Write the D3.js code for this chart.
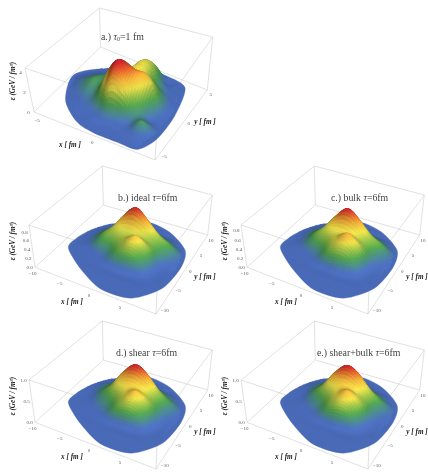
<!DOCTYPE html>
<html><head><meta charset="utf-8">
<script src="https://cdn.jsdelivr.net/npm/d3@7"></script>
<style>html,body{margin:0;padding:0;background:#fff}svg{display:block}</style>
</head><body><svg id="c" width="428" height="472"></svg>
<script>
// ---------- data ----------
const titleA="a.) ", titleB="b.) ideal ", titleC="c.) bulk ", titleD="d.) shear ", titleE="e.) shear+bulk ";
const ticksEarlyX=[-5,0], ticksEarlyY=[-5,0,5], ticksEarlyZ=[0,2,4];
const ticksLateX=[-10,-5,0,5], ticksLateY=[-10,-5,0,5,10];
const ticksZ8=[0,0.2,0.4,0.6,0.8], ticksZ1=[0,0.5,1];
const nodesEarly=[-5,-4,-3,-2,-1,0,1,2,3,4,5];
const nodesLate=[-9.5,-7.5,-5.5,-3.5,-1.5,.5,2.5,4.5,6.5,8.5,10.5];
// rows run from y high (back) to y low (front); columns from x low to x high
const epsA=[
[0,.05,.05,.05,.05,.1,.1,.05,.05,0,0],
[0,.05,.1,.1,.3,1.6,1.4,.2,.1,.05,0],
[.05,.1,.2,.3,.8,2.1,1.9,.7,.2,.1,.05],
[.05,.1,.3,.6,1.2,2.2,2.1,1.0,.4,.1,.05],
[.05,.3,.7,.9,2.0,2.4,2.2,2.0,.8,.2,.05],
[.1,.5,1.0,1.1,2.8,3.6,3.2,3.0,1.1,.2,.05],
[.1,.4,.8,1.0,3.0,4.3,3.6,2.3,.7,.2,.05],
[.05,.2,.4,.6,1.7,3.5,2.9,1.2,.4,.2,.05],
[.05,.1,.2,.3,.5,.9,.7,.4,.9,.4,.05],
[0,.05,.1,.1,.2,.2,.2,.2,.3,.2,0],
[0,0,.05,.05,.05,.05,.05,.05,.05,0,0]];
const epsB=[
[0,0,0,0,0,0,0,0,0,0,0],
[0,0,0,.01,.01,.01,.01,.01,0,0,0],
[0,.01,.01,.02,.06,.10,.07,.03,.02,.01,0],
[.01,.01,.03,.08,.25,.50,.33,.20,.10,.02,.01],
[.01,.02,.08,.24,.60,.87,.68,.40,.25,.08,.01],
[.01,.02,.10,.30,.42,.43,.40,.30,.16,.06,.01],
[.01,.01,.07,.20,.26,.38,.56,.34,.07,.02,.01],
[.01,.01,.02,.05,.10,.24,.30,.18,.03,.01,.01],
[0,.01,.01,.01,.02,.03,.03,.02,.01,.01,0],
[0,0,.01,.01,.01,.01,.01,.01,.01,0,0],
[0,0,0,0,0,0,0,0,0,0,0]];
const epsC=[
[0,0,0,0,0,0,0,0,0,0,0],
[0,0,0,.01,.01,.01,.01,.01,0,0,0],
[0,.01,.01,.03,.07,.10,.07,.03,.02,.01,0],
[.01,.01,.04,.10,.27,.49,.33,.20,.10,.02,.01],
[.01,.02,.09,.24,.57,.82,.66,.38,.24,.07,.01],
[.01,.02,.10,.29,.42,.45,.42,.31,.15,.06,.01],
[.01,.01,.07,.19,.27,.42,.60,.36,.08,.02,.01],
[.01,.01,.02,.05,.11,.26,.32,.20,.03,.01,.01],
[0,.01,.01,.01,.02,.03,.04,.02,.01,.01,0],
[0,0,.01,.01,.01,.01,.01,.01,.01,0,0],
[0,0,0,0,0,0,0,0,0,0,0]];
const epsD=[
[0,0,0,0,0,0,0,0,0,0,0],
[0,0,0,.01,.01,.02,.01,.01,0,0,0],
[0,.01,.01,.03,.08,.12,.09,.04,.02,.01,0],
[.01,.01,.04,.11,.28,.50,.35,.20,.09,.02,.01],
[.01,.02,.08,.22,.60,.86,.72,.40,.20,.06,.01],
[.01,.02,.07,.24,.44,.52,.47,.33,.14,.05,.01],
[.01,.01,.04,.13,.24,.40,.57,.36,.09,.03,.01],
[.01,.01,.02,.05,.11,.26,.33,.20,.03,.01,.01],
[0,.01,.01,.01,.02,.03,.04,.02,.01,.01,0],
[0,0,.01,.01,.01,.01,.01,.01,.01,0,0],
[0,0,0,0,0,0,0,0,0,0,0]];
const epsE=[
[0,0,0,0,0,0,0,0,0,0,0],
[0,0,0,.01,.01,.02,.01,.01,0,0,0],
[0,.01,.01,.03,.08,.12,.09,.04,.02,.01,0],
[.01,.01,.04,.11,.29,.50,.35,.20,.09,.02,.01],
[.01,.02,.08,.23,.60,.84,.71,.40,.21,.06,.01],
[.01,.02,.07,.25,.44,.52,.47,.33,.14,.05,.01],
[.01,.01,.04,.13,.24,.41,.58,.36,.09,.03,.01],
[.01,.01,.02,.05,.11,.26,.34,.20,.03,.01,.01],
[0,.01,.01,.01,.02,.03,.04,.02,.01,.01,0],
[0,0,.01,.01,.01,.01,.01,.01,.01,0,0],
[0,0,0,0,0,0,0,0,0,0,0]];
// surface outline on the x-y plane
const rimEarlyX=[-5.4,-4.2,-2.1,-.3,2,3.7,4.5,4.5,3.6,1.1,0,-3.9];
const rimEarlyY=[.4,-2.9,-4.8,-5.3,-5.3,-5.2,-3.2,.5,4.7,5.3,5.2,2.7];
const rimLateX=[-8.3,-8.6,-7.8,-5.8,-.5,4.2,8.3,9.3,8.7,5.8,1.2,-3.6];
const rimLateY=[-3.9,-.7,2.6,6.1,10.1,9,5.2,.5,-5.6,-9.8,-10.3,-7.8];

// ---------- layout ----------
const frameEarly={BL:[34,112],FB:[155,160],BR:[207.3,90],BB:[100.5,47],TL:[25,68],FT:[158,114],TR:[212.7,37],TB:[99.5,8]};
const frameLate={BL:[35,267.3],FB:[156,314],BR:[207.7,235],BB:[103.3,205],TL:[29,225],FT:[158,268],TR:[212.3,195],TB:[102.3,166]};
const panels=[
 {eps:epsA,nodes:nodesEarly,rx:rimEarlyX,ry:rimEarlyY,frame:frameEarly,dx:0,dy:0,xd:[-5.5,5.5],yd:[-5.6,5.6],zd:[0,4.5],
  xt:ticksEarlyX,yt:ticksEarlyY,zt:ticksEarlyZ,zf:d3.format("d"),title:titleA,tau:"0",tail:"=1 fm",tx:101,ty:39.5,
  xl:[70,147],yl:[205,124],zl:[15,81]},
 {eps:epsB,nodes:nodesLate,rx:rimLateX,ry:rimLateY,frame:frameLate,dx:0,dy:0,xd:[-10,10],yd:[-11,11.5],zd:[0,.96],
  xt:ticksLateX,yt:ticksLateY,zt:ticksZ8,zf:d3.format(".1f"),title:titleB,tau:"",tail:"=6fm",tx:118,ty:200.5,
  xl:[72,304],yl:[205,279],zl:[15,241]},
 {eps:epsC,nodes:nodesLate,rx:rimLateX,ry:rimLateY,frame:frameLate,dx:212,dy:0,xd:[-10,10],yd:[-11,11.5],zd:[0,.93],
  xt:ticksLateX,yt:ticksLateY,zt:ticksZ8,zf:d3.format(".1f"),title:titleC,tau:"",tail:"=6fm",tx:331,ty:200.5,
  xl:[286,304],yl:[417,279],zl:[227,241]},
 {eps:epsD,nodes:nodesLate,rx:rimLateX,ry:rimLateY,frame:frameLate,dx:0,dy:155,xd:[-10,10],yd:[-11,11.5],zd:[0,1],
  xt:ticksLateX,yt:ticksLateY,zt:ticksZ1,zf:d3.format(".1f"),title:titleD,tau:"",tail:"=6fm",tx:116,ty:355.5,
  xl:[72,459],yl:[205,434],zl:[15,396]},
 {eps:epsE,nodes:nodesLate,rx:rimLateX,ry:rimLateY,frame:frameLate,dx:212,dy:155,xd:[-10,10],yd:[-11,11.5],zd:[0,1],
  xt:ticksLateX,yt:ticksLateY,zt:ticksZ1,zf:d3.format(".1f"),title:titleE,tau:"",tail:"=6fm",tx:317,ty:355.5,
  xl:[286,459],yl:[417,434],zl:[227,396]}
];
const heat=d3.scaleLinear()
 .domain([0,.06,.13,.26,.4,.52,.68,.82,.97])
 .range(["#4a6ab6","#4a6ab6","#477f8c","#4e9c4a","#98b845","#e2d548","#e6ae38","#dc6a2c","#c3242a"])
 .interpolate(d3.interpolateRgb).clamp(true);
const LIGHT=[.42,-.38,.82];
const MESH=70;

function homography(p00,p10,p11,p01){
 const dx1=p10[0]-p11[0],dx2=p01[0]-p11[0],sx=p00[0]-p10[0]+p11[0]-p01[0];
 const dy1=p10[1]-p11[1],dy2=p01[1]-p11[1],sy=p00[1]-p10[1]+p11[1]-p01[1];
 const den=dx1*dy2-dx2*dy1, g=(sx*dy2-dx2*sy)/den, h=(dx1*sy-sx*dy1)/den;
 const a=p10[0]-p00[0]+g*p10[0],b=p01[0]-p00[0]+h*p01[0],c=p00[0];
 const d=p10[1]-p00[1]+g*p10[1],e=p01[1]-p00[1]+h*p01[1],f=p00[1];
 return (u,v)=>{const w=g*u+h*v+1;return [(a*u+b*v+c)/w,(d*u+e*v+f)/w];};
}
function catmull(p0,p1,p2,p3,t){
 return .5*(2*p1+(p2-p0)*t+(2*p0-5*p1+4*p2-p3)*t*t+(3*p1-p0-3*p2+p3)*t*t*t);
}
function sampler(rows,nodes){
 const n=nodes.length,step=nodes[1]-nodes[0];
 const at=(i,j)=>rows[n-1-Math.max(0,Math.min(n-1,j))][Math.max(0,Math.min(n-1,i))];
 return (x,y)=>{
  const fx=(x-nodes[0])/step,fy=(y-nodes[0])/step;
  const i=Math.floor(fx),j=Math.floor(fy),tx=fx-i,ty=fy-j;
  const col=[];
  for(let m=-1;m<=2;m++) col.push(catmull(at(i-1,j+m),at(i,j+m),at(i+1,j+m),at(i+2,j+m),tx));
  return Math.max(0,catmull(col[0],col[1],col[2],col[3],ty));
 };
}
const svg=d3.select("#c");
const defs=svg.append("defs");
defs.append("filter").attr("id","soft").attr("x","-5%").attr("y","-5%").attr("width","110%").attr("height","110%")
 .append("feGaussianBlur").attr("stdDeviation",.45);
const root=svg.append("g").attr("filter","url(#soft)");
root.append("rect").attr("width",428).attr("height",472).attr("fill","#fff");

panels.forEach(P=>{
 const g=root.append("g").attr("transform",`translate(${P.dx},${P.dy})`);
 const F=P.frame;
 const x=d3.scaleLinear().domain(P.xd).range([0,1]);
 const y=d3.scaleLinear().domain(P.yd).range([0,1]);
 const z=d3.scaleLinear().domain(P.zd).range([0,1]);
 const low=homography(F.BL,F.FB,F.BR,F.BB), high=homography(F.TL,F.FT,F.TR,F.TB);
 const proj=(X,Y,Z)=>{
  const u=x(X),v=y(Y),w=z(Z),a=low(u,v),b=high(u,v);
  return [a[0]+(b[0]-a[0])*w,a[1]+(b[1]-a[1])*w];
 };
 // frame
 const edges=[["BL","FB"],["FB","BR"],["BR","BB"],["BB","BL"],["TL","FT"],["FT","TR"],["TR","TB"],["TB","TL"],["BL","TL"],["FB","FT"],["BR","TR"],["BB","TB"]];
 g.append("g").selectAll("line").data(edges).join("line")
  .attr("x1",d=>F[d[0]][0]).attr("y1",d=>F[d[0]][1]).attr("x2",d=>F[d[1]][0]).attr("y2",d=>F[d[1]][1])
  .attr("stroke","#c8c8c8").attr("stroke-width",.55);
 // outline base
 const rim=P.rx.map((v,i)=>[v,P.ry[i]]);
 const rimPts=rim.map(d=>proj(d[0],d[1],0));
 g.append("path").attr("d",d3.line().curve(d3.curveCardinalClosed.tension(.2))(rimPts))
  .attr("fill","#4a6ab6").attr("stroke","#4a6ab6").attr("stroke-width",.3);
 // surface
 const height=sampler(P.eps,P.nodes);
 const cx=d3.mean(P.rx),cy=d3.mean(P.ry);
 const inner=rim.map(d=>[cx+(d[0]-cx)*.95,cy+(d[1]-cy)*.95]);
 const zTop=d3.max(P.eps.flat());
 const xs=d3.range(MESH+1).map(i=>x.invert(i/MESH));
 const ys=d3.range(MESH,-1,-1).map(i=>y.invert(i/MESH));
 const cells=[];
 const lenX=P.xd[1]-P.xd[0],lenY=P.yd[1]-P.yd[0],zS=.34;
 for(let i=0;i<MESH;i++){
  for(let j=0;j<MESH;j++){
   const x0=xs[i],x1=xs[i+1],y0=ys[j],y1=ys[j+1];
   const mx=(x0+x1)/2,my=(y0+y1)/2;
   if(!d3.polygonContains(inner,[mx,my])) continue;
   const h00=height(x0,y0),h10=height(x1,y0),h11=height(x1,y1),h01=height(x0,y1);
   const hm=(h00+h10+h11+h01)/4;
   const gx=((h10+h11)-(h00+h01))/2/(P.zd[1]-P.zd[0])*zS/((x1-x0)/lenX);
   const gy=((h00+h10)-(h01+h11))/2/(P.zd[1]-P.zd[0])*zS/((y0-y1)/lenY);
   const nl=Math.hypot(gx,gy,1);
   const lam=(-gx*LIGHT[0]-gy*LIGHT[1]+LIGHT[2])/nl;
   const shade=.5+.61*Math.max(0,lam);
   const c=d3.rgb(heat(hm/zTop));
   const col=d3.rgb(Math.min(255,c.r*shade),Math.min(255,c.g*shade),Math.min(255,c.b*shade)).formatHex();
   // back edges pushed under the previously drawn neighbours, so no seam can open between cells
   const xb=x0-(x1-x0)*.6, yb=y0+(y0-y1)*.6;
   cells.push({pts:[proj(xb,yb,height(xb,yb)),proj(x1,yb,height(x1,yb)),proj(x1,y1,h11),proj(xb,y1,height(xb,y1))],col});
  }
 }
 g.append("g").selectAll("path").data(cells).join("path")
  .attr("d",d=>"M"+d.pts.map(p=>p[0].toFixed(2)+","+p[1].toFixed(2)).join("L")+"Z")
  .attr("fill",d=>d.col);
 // tick labels
 const tickStyle=s=>s.attr("font-family","Liberation Serif").attr("font-size",5).attr("fill","#555").attr("text-anchor","middle");
 const minus=v=>String(v).replace("-","\u2212");
 g.append("g").call(tickStyle).selectAll("text").data(P.xt).join("text")
  .attr("x",d=>proj(d,P.yd[0],0)[0]-2.5).attr("y",d=>proj(d,P.yd[0],0)[1]+7.5).text(minus);
 g.append("g").call(tickStyle).selectAll("text").data(P.yt).join("text")
  .attr("x",d=>proj(P.xd[1],d,0)[0]+6).attr("y",d=>proj(P.xd[1],d,0)[1]+2.5).text(minus);
 g.append("g").call(tickStyle).selectAll("text").data(P.zt).join("text")
  .attr("x",d=>proj(P.xd[0],P.yd[0],d)[0]-5.5).attr("y",d=>proj(P.xd[0],P.yd[0],d)[1]+1.5).text(P.zf);
 // title
 const title=root.append("text").attr("x",P.tx).attr("y",P.ty).attr("font-family","Liberation Serif").attr("font-size",9.8).attr("fill","#3d3d3d");
 title.append("tspan").text(P.title);
 title.append("tspan").attr("font-style","italic").text("\u03c4");
 if(P.tau) title.append("tspan").attr("font-size",6).attr("dy",1.6).text(P.tau);
 title.append("tspan").attr("dy",P.tau?-1.6:0).text(P.tail);
 // axis names
 const axis=s=>s.attr("font-family","Liberation Serif").attr("font-size",7.2).attr("font-weight","bold").attr("font-style","italic").attr("fill","#222").attr("text-anchor","middle");
 root.append("text").call(axis).attr("x",P.xl[0]).attr("y",P.xl[1]).text("x [ fm ]");
 root.append("text").call(axis).attr("x",P.yl[0]).attr("y",P.yl[1]).text("y [ fm ]");
 const zt=root.append("text").call(axis).attr("transform",`translate(${P.zl[0]},${P.zl[1]}) rotate(-90)`);
 zt.append("tspan").text("\u03b5 (GeV / fm");
 zt.append("tspan").attr("font-size",4.8).attr("dy",-2).text("3");
 zt.append("tspan").attr("dy",2).text(")");
});
</script></body></html>
